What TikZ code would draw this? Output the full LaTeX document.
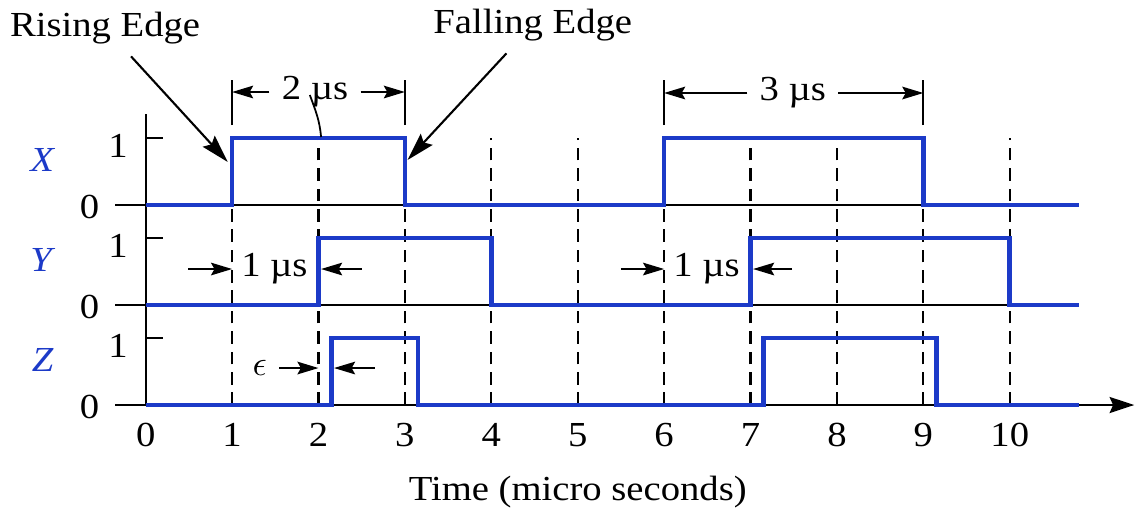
\documentclass[tikz,border=0pt]{standalone}
\usepackage{fontspec}
\setmainfont{Liberation Serif}[FakeStretch=1.1]
\usetikzlibrary{arrows.meta}
\definecolor{sigblue}{RGB}{28,58,200}

\begin{document}
\begin{tikzpicture}[x=0.864cm, y=1cm, font=\fontsize{10}{12}\selectfont,
    sig/.style={sigblue, line width=1.3pt, line join=miter},
    baseln/.style={black, line width=0.5pt},
    guide/.style={black, line width=0.65pt, dash pattern=on 3.6pt off 2.2pt},
    dimarr/.style={black, line width=0.5pt, -{Stealth[length=6pt, width=3.6pt, inset=1pt]}},
    leader/.style={black, line width=0.6pt, -{Stealth[length=8pt, width=4.6pt, inset=1.2pt]}}]
    \useasboundingbox (-1.686,-1.11) rectangle (11.554,4.05);

    % ゼロレベルの基準線と縦軸
    \foreach \r in {1,2}{
        \draw[baseln] (-0.355,\r) -- (10.8,\r);
    }
    \draw[baseln, -{Stealth[length=7pt, width=4.6pt, inset=1pt]}] (-0.355,0) -- (11.44,0);
    \draw[baseln] (0,0) -- (0,2.91);

    % 信号名と 0/1 の目盛り
    \foreach \r/\s in {2/X,1/Y,0/Z}{
        \draw[baseln] (0,\r+0.67) -- (0.195,\r+0.67);
        \node (one\s) at (-0.32,\r+0.59) {1};
        \node (zero\s) at (-0.65,\r-0.02) {0};
        \node[text=sigblue] (name\s) at (-1.19,\r+0.45) {\textit{\s}};
    }

    % 1 µs ごとの破線
    \foreach \t in {1,...,10}{
        \draw[guide] (\t,0) -- (\t,2.67);
    }

    % 時間軸の数字
    \foreach \t in {0,...,10}{
        \node (tk\t) at (\t,-0.30) {\t};
    }
    \node (tlabel) at (5,-0.87) {Time (micro seconds)};

    % 波形 X, Y, Z
    \draw[sig] (0,2) -- (1,2) -- (1,2.67) -- (3,2.67) -- (3,2) -- (6,2) -- (6,2.67)
        -- (9,2.67) -- (9,2) -- (10.8,2);
    \draw[sig] (0,1) -- (2,1) -- (2,1.67) -- (4,1.67) -- (4,1) -- (7,1) -- (7,1.67)
        -- (10,1.67) -- (10,1) -- (10.8,1);
    \draw[sig] (0,0) -- (2.15,0) -- (2.15,0.67) -- (3.15,0.67) -- (3.15,0) -- (7.15,0)
        -- (7.15,0.67) -- (9.15,0.67) -- (9.15,0) -- (10.8,0);

    % パルス幅の寸法線
    \foreach \t in {1,3,6,9}{
        \draw[baseln] (\t,2.80) -- (\t,3.25);
    }
    \node (wtwo) at (1.96,3.13) {2 µs};
    \coordinate (wtwoL) at (1,3.13);
    \coordinate (wtwoR) at (3,3.13);
    \draw[dimarr] (wtwo) -- (wtwoL);
    \draw[dimarr] (wtwo) -- (wtwoR);
    \node (wthree) at (7.49,3.12) {3 µs};
    \coordinate (wthreeL) at (6,3.12);
    \coordinate (wthreeR) at (9,3.12);
    \draw[dimarr] (wthree) -- (wthreeL);
    \draw[dimarr] (wthree) -- (wthreeR);
    \coordinate (nickA) at (1.90,3.10);
    \coordinate (nickB) at (2.03,2.68);
    \draw[black, line width=0.5pt] (nickA) to[out=-70, in=95] (nickB);

    % 1 µs の遅れ
    \node (dlyA) at (1.49,1.36) {1 µs};
    \coordinate (dlyAl) at (0.49,1.36);
    \coordinate (dlyAtl) at (1,1.36);
    \coordinate (dlyAr) at (2.50,1.36);
    \coordinate (dlyAtr) at (2.03,1.36);
    \draw[dimarr] (dlyAl) -- (dlyAtl);
    \draw[dimarr] (dlyAr) -- (dlyAtr);
    \node (dlyB) at (6.49,1.36) {1 µs};
    \coordinate (dlyBl) at (5.50,1.36);
    \coordinate (dlyBtl) at (6,1.36);
    \coordinate (dlyBr) at (7.48,1.36);
    \coordinate (dlyBtr) at (7.03,1.36);
    \draw[dimarr] (dlyBl) -- (dlyBtl);
    \draw[dimarr] (dlyBr) -- (dlyBtr);

    % ε の遅れ
    \node (eps) at (1.32,0.37) {$\epsilon$};
    \coordinate (epsTl) at (2,0.37);
    \coordinate (epsR) at (2.65,0.37);
    \coordinate (epsTr) at (2.18,0.37);
    \draw[dimarr] (eps) -- (epsTl);
    \draw[dimarr] (epsR) -- (epsTr);

    % エッジの説明
    \node (rise) at (-0.47,3.77) {Rising Edge};
    \coordinate (risetip) at (0.95,2.43);
    \draw[leader] (rise) -- (risetip);
    \node (fall) at (4.48,3.80) {Falling Edge};
    \coordinate (falltip) at (3.03,2.45);
    \draw[leader] (fall) -- (falltip);

\end{tikzpicture}
\end{document}
